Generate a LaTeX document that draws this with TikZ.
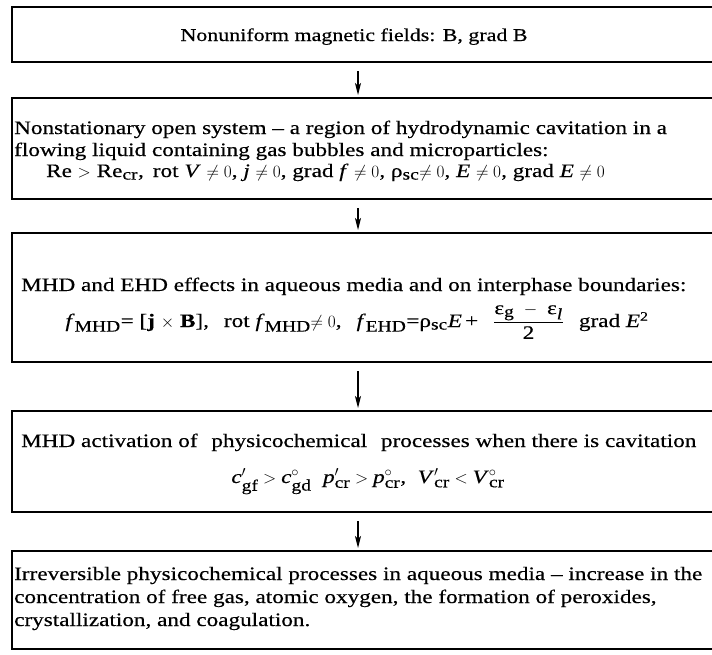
\documentclass[tikz,border=0pt]{standalone}
\usepackage{amsmath}
\usepackage{fontspec}
\setmainfont[FakeStretch=1.22,FakeBold=0.4]{Liberation Serif}
\usetikzlibrary{arrows.meta}
\newcommand{\sbs}[1]{_{\mbox{\fontsize{16}{16}\selectfont #1}}}
\newcommand{\iv}[1]{\mbox{\textit{#1}}}
\newcommand{\gap}{\hspace{15pt}}
\begin{document}
\begin{tikzpicture}[x=1pt,y=-1pt,
  font=\fontsize{19}{22}\selectfont,
  frame/.style={line width=1.2pt, black},
  arr/.style={line width=1.2pt, -{Stealth[length=12pt,width=6pt,inset=3pt]}},
  ltxt/.style={anchor=base west, inner sep=0pt},
  ctxt/.style={anchor=base, inner sep=0pt}]
\useasboundingbox (0,0) rectangle (712,654);
\fill[white] (0,0) rectangle (712,654);
\coordinate (rx) at (712,0);
\coordinate (ax) at (358,0);
% box corners (left side)
\coordinate (b1t) at (12,7);   \coordinate (b1b) at (12,62);
\coordinate (b2t) at (12,98);  \coordinate (b2b) at (12,199);
\coordinate (b3t) at (12,233); \coordinate (b3b) at (12,362);
\coordinate (b4t) at (12,411); \coordinate (b4b) at (12,512);
\coordinate (b5t) at (12,551); \coordinate (b5b) at (12,649);
\foreach \bx in {b1,b2,b3,b4,b5}
  \draw[frame] (\bx t -| rx) -- (\bx t) -- (\bx b) -- (\bx b -| rx);
% arrows
\draw[arr] ([yshift=-9pt]b1b -| ax) -- ([yshift=3pt]b2t -| ax);
\draw[arr] ([yshift=-9pt]b2b -| ax) -- ([yshift=3pt]b3t -| ax);
\draw[arr] ([yshift=-9pt]b3b -| ax) -- ([yshift=3pt]b4t -| ax);
\draw[arr] ([yshift=-9pt]b4b -| ax) -- ([yshift=3pt]b5t -| ax);
% texts
\node[ctxt, font=\fontsize{18}{22}\selectfont] (t1) at (354,41) {Nonuniform magnetic fields: B, grad B};
\node[ltxt] (t2a) at (14,134) {Nonstationary open system -- a region of hydrodynamic cavitation in a};
\node[ltxt] (t2b) at (14,156) {flowing liquid containing gas bubbles and microparticles:};
\node[ltxt] (t2c) at (46,177) {Re $>$ Re$\sbs{cr}$,\, rot \iv{V} $\neq 0$,\ \iv{j} $\neq 0$,\ grad \iv{f} $\neq 0$,\ ρ$\sbs{sc}$$\neq 0$,\ \iv{E} $\neq 0$,\ grad \iv{E} $\neq 0$};
\node[ltxt] (t3a) at (21,291) {MHD and EHD effects in aqueous media and on interphase boundaries:};
\node[ctxt] (t3b) at (357,327) {\iv{f}$\sbs{MHD}$=\ [\textbf{j} $\times$ \textbf{B}],\gap rot \iv{f}$\sbs{MHD}$$\neq 0$,\gap \iv{f}$\sbs{EHD}$=ρ$\sbs{sc}$\iv{E}\,+\gap$\dfrac{\mbox{ε}\sbs{g}\ -\ \mbox{ε}\sbs{\iv{l}}}{\mbox{2}}$\gap grad \iv{E}$^{\mbox{\fontsize{13}{13}\selectfont 2}}$};
\node[ltxt] (t4a) at (21,447) {MHD activation of\hspace{8pt} physicochemical\hspace{8pt} processes when there is cavitation};
\node[ctxt] (t4b) at (368,483) {$\iv{c}'\sbs{gf} > \iv{c}^{\circ}\sbs{gd}$\ \ $\iv{p}'\sbs{cr} > \iv{p}^{\circ}\sbs{cr}$,\ \ $\iv{V}'\sbs{cr} < \iv{V}^{\circ}\sbs{cr}$};
\node[ltxt] (t5a) at (14,580) {Irreversible physicochemical processes in aqueous media -- increase in the};
\node[ltxt] (t5b) at (14,603) {concentration of free gas, atomic oxygen, the formation of peroxides,};
\node[ltxt] (t5c) at (14,626) {crystallization, and coagulation.};
\end{tikzpicture}
\end{document}
